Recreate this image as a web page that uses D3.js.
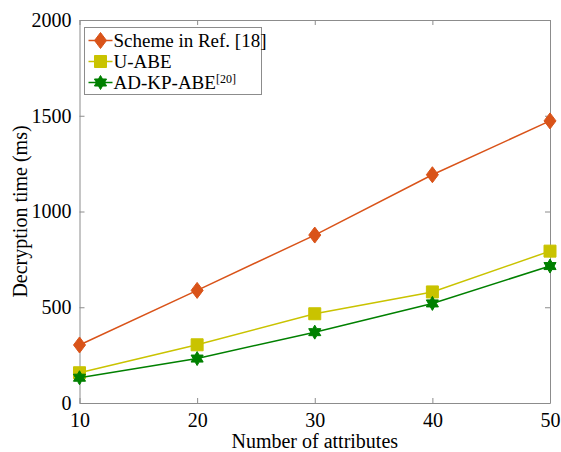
<!DOCTYPE html>
<head>
<meta charset="utf-8">
<title>Decryption time</title>
<style>
  body { margin: 0; background: #fff; }
  svg text { font-family: "Liberation Serif", "DejaVu Serif", serif; fill: #000; }
  .axis path, .axis line { stroke: #8c8c8c; }
</style>
</head>
<body>
<svg width="561" height="452"></svg>
<script src="https://d3js.org/d3.v7.min.js"></script>
<script>

    var attributes = [10, 20, 30, 40, 50];
    var schemeRef18 = [303, 588, 877, 1192, 1473];
    var uAbe = [158, 304, 466, 580, 793];
    var adKpAbe = [132, 232, 370, 520, 715];
    var xTicks = [10, 20, 30, 40, 50];
    var yTicks = [0, 500, 1000, 1500, 2000];

    var series = [
        {name: "Scheme in Ref. [18]", values: schemeRef18, color: "#d95319", marker: "diamond"},
        {name: "U-ABE", values: uAbe, color: "#c9c300", marker: "square"},
        {name: "AD-KP-ABE", sup: "[20]", values: adKpAbe, color: "#008000", marker: "hexagram"}
    ];

    var svg = d3.select("svg"),
        margin = {top: 20, right: 11, bottom: 49, left: 79.5},
        width = svg.attr("width") - margin.left - margin.right,
        height = svg.attr("height") - margin.top - margin.bottom;

    var x = d3.scaleLinear().domain([10, 50]).range([0, width]),
        y = d3.scaleLinear().domain([0, 2000]).range([height, 0]);

    var g = svg.append("g")
        .attr("transform", "translate(" + margin.left + "," + margin.top + ")");

    // box with inward ticks on all sides
    var fmt = d3.format("d");
    g.append("g").attr("class", "axis")
        .attr("transform", "translate(0," + height + ")")
        .call(d3.axisBottom(x).tickValues(xTicks).tickFormat(fmt).tickSizeInner(-5).tickSizeOuter(0).tickPadding(10));
    g.append("g").attr("class", "axis")
        .call(d3.axisTop(x).tickValues(xTicks).tickSizeInner(-5).tickSizeOuter(0).tickFormat(""));
    g.append("g").attr("class", "axis")
        .call(d3.axisLeft(y).tickValues(yTicks).tickFormat(fmt).tickSizeInner(-5).tickSizeOuter(0).tickPadding(8));
    g.append("g").attr("class", "axis")
        .attr("transform", "translate(" + width + ",0)")
        .call(d3.axisRight(y).tickValues(yTicks).tickSizeInner(-5).tickSizeOuter(0).tickFormat(""));

    g.selectAll(".axis").attr("font-family", null).attr("font-size", null);
    g.selectAll(".axis text").style("font-size", "20px");

    // axis titles
    g.append("text")
        .attr("x", width / 2)
        .attr("y", height + 45)
        .attr("text-anchor", "middle")
        .style("font-size", "20px")
        .text("Number of attributes");

    svg.append("text")
        .attr("transform", "translate(27," + (margin.top + height / 2) + ") rotate(-90)")
        .attr("text-anchor", "middle")
        .style("font-size", "20px")
        .text("Decryption time (ms)");

    function hexagram(r) {
        var pts = [];
        for (var i = 0; i < 12; i++) {
            var a = Math.PI / 6 * i - Math.PI / 2;
            var rr = i % 2 === 0 ? r : r * 0.58;
            pts.push([rr * Math.cos(a), rr * Math.sin(a)]);
        }
        return "M" + pts.join("L") + "Z";
    }

    function markerPath(type) {
        if (type === "diamond") return "M0,-8L6,0L0,8L-6,0Z";
        if (type === "square") return "M-6,-6H6V6H-6Z";
        return hexagram(7);
    }

    var line = d3.line()
        .x(function(d, i) { return x(attributes[i]); })
        .y(function(d) { return y(d); });

    var layer = g.selectAll(".series")
        .data(series)
        .enter().append("g")
        .attr("class", "series");

    layer.append("path")
        .attr("fill", "none")
        .attr("stroke", function(d) { return d.color; })
        .attr("stroke-width", 1.5)
        .attr("d", function(d) { return line(d.values); });

    layer.each(function(s) {
        d3.select(this).selectAll(".pt")
            .data(s.values)
            .enter().append("path")
            .attr("class", "pt")
            .attr("transform", function(d, i) { return "translate(" + x(attributes[i]) + "," + y(d) + ")"; })
            .attr("d", markerPath(s.marker))
            .attr("fill", s.color)
            .attr("stroke", s.color);
    });

    // legend
    var legend = svg.append("g").attr("transform", "translate(84.5,27.5)");
    legend.append("rect")
        .attr("width", 177)
        .attr("height", 67)
        .attr("fill", "#fff")
        .attr("stroke", "#8c8c8c");

    var item = legend.selectAll(".item")
        .data(series)
        .enter().append("g")
        .attr("class", "item")
        .attr("transform", function(d, i) { return "translate(0," + (13 + i * 21) + ")"; });

    item.append("line")
        .attr("x1", 4).attr("x2", 28)
        .attr("stroke", function(d) { return d.color; })
        .attr("stroke-width", 1.5);

    item.append("path")
        .attr("transform", "translate(16,0)")
        .attr("d", function(d) { return markerPath(d.marker); })
        .attr("fill", function(d) { return d.color; })
        .attr("stroke", function(d) { return d.color; });

    var label = item.append("text")
        .attr("x", 29)
        .attr("dy", "0.35em")
        .style("font-size", "19px")
        .text(function(d) { return d.name; });

    label.filter(function(d) { return d.sup; })
        .append("tspan")
        .attr("dy", "-0.5em")
        .style("font-size", "12px")
        .text(function(d) { return d.sup; });

</script>
</body>
